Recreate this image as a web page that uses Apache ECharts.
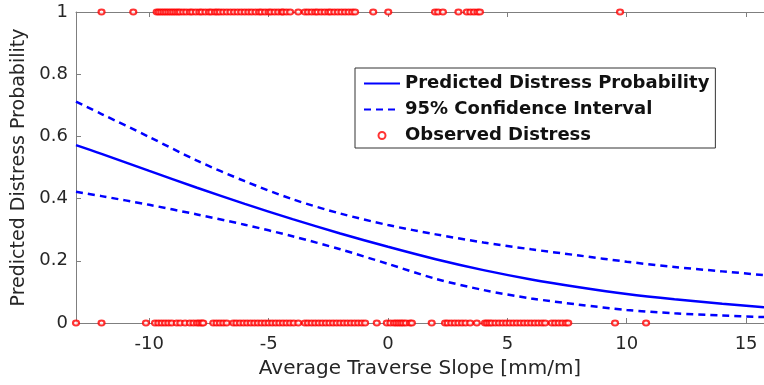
<!DOCTYPE html>
<html>
<head>
<meta charset="utf-8">
<script src="https://cdn.jsdelivr.net/npm/echarts@6/dist/echarts.min.js"></script>
<style>
    html, body { margin: 0; padding: 0; background: #fff; }
    #chart { width: 764px; height: 385px; }
</style>
</head>
<body>
<div id="chart"></div>
<script>
// slope values along the fitted curves
const curveX = [-13.07, -12, -10, -8, -6, -4, -2, 0, 2, 4, 6, 8, 10, 12, 14, 15.75];
const predicted = [0.572, 0.544, 0.489, 0.435, 0.383, 0.334, 0.288, 0.245, 0.205, 0.17, 0.14, 0.115, 0.093, 0.076, 0.062, 0.051];
const upperCI = [0.712, 0.672, 0.598, 0.522, 0.456, 0.398, 0.352, 0.315, 0.285, 0.259, 0.237, 0.217, 0.197, 0.18, 0.166, 0.154];
const lowerCI = [0.422, 0.408, 0.38, 0.349, 0.316, 0.279, 0.237, 0.19, 0.142, 0.106, 0.079, 0.059, 0.042, 0.031, 0.024, 0.019];

// observed sections: distress = 1
const distressX = [
    -12.0, -10.67,
    -9.69, -9.6, -9.5, -9.4, -9.3, -9.2, -9.1, -9.0, -8.9, -8.8, -8.71,
    -8.58, -8.45, -8.3, -8.2, -8.05, -7.9, -7.8, -7.65, -7.5, -7.4, -7.25, -7.15, -7.04,
    -6.9, -6.75, -6.6, -6.45, -6.3, -6.15, -6.0, -5.85,
    -5.71, -5.55, -5.4, -5.3, -5.15, -5.0, -4.9, -4.75, -4.6, -4.45,
    -4.39, -4.25, -4.1, -3.76,
    -3.48, -3.35, -3.2, -3.05, -2.95, -2.8, -2.65, -2.5, -2.4, -2.25, -2.1, -1.95, -1.8, -1.65, -1.5, -1.38,
    -0.62, 0.01,
    1.97, 2.1, 2.3, 2.95, 3.3, 3.45, 3.6, 3.75, 3.85,
    9.72
];
// observed sections: distress = 0
const noDistressX = [
    -13.07, -12.0, -10.14,
    -9.76, -9.62, -9.48, -9.34, -9.2, -9.06,
    -8.85, -8.7, -8.5,
    -8.3, -8.15, -8.0, -7.9, -7.8, -7.74,
    -7.32, -7.18, -7.04, -6.9, -6.76,
    -6.48, -6.35, -6.2, -6.05, -5.9, -5.75, -5.6, -5.45, -5.3, -5.15, -5.0, -4.85, -4.7, -4.55, -4.4, -4.25, -4.1, -3.95, -3.76,
    -3.48, -3.35, -3.2, -3.05, -2.9, -2.75, -2.6, -2.45, -2.3, -2.15, -2.0, -1.85, -1.7, -1.55, -1.4, -1.25, -1.1, -0.96,
    -0.47, -0.05, 0.1, 0.25, 0.35, 0.45, 0.55, 0.64, 0.75, 0.92, 1.0,
    1.83,
    2.39, 2.5, 2.65, 2.8, 2.95, 3.1, 3.25, 3.44, 3.72,
    4.06, 4.15, 4.25, 4.35, 4.5, 4.65, 4.8, 4.95, 5.1, 5.25, 5.4, 5.55, 5.7, 5.85, 6.0, 6.15, 6.3, 6.45, 6.58,
    6.86, 7.0, 7.15, 7.3, 7.45, 7.55,
    9.51, 10.81
];

const xMin = -13.07;
const xMax = 15.75;

const chart = echarts.init(document.getElementById('chart'));

const font = 'DejaVu Sans';
const axisGray = '#7f7f7f';
const textDark = '#262626';

const observed = distressX.map(x => [x, 1]).concat(noDistressX.map(x => [x, 0]));

const lineSeries = (name, values, dashed) => ({
    name: name,
    type: 'line',
    data: curveX.map((x, i) => [x, values[i]]),
    showSymbol: false,
    symbol: 'none',
    smooth: 0.3,
    lineStyle: {
        color: '#0000ff',
        width: 2.5,
        type: dashed ? [7, 5] : 'solid'
    },
    itemStyle: { color: '#0000ff' },
    z: 2
});

const option = {
    backgroundColor: '#fff',
    animation: false,
    textStyle: { fontFamily: font },
    grid: { left: 76, right: 0, top: 12, bottom: 62 },
    legend: {
        left: 355,
        top: 68,
        orient: 'vertical',
        data: [
            { name: 'Predicted Distress Probability', itemStyle: { opacity: 0 } },
            { name: '95% Confidence Interval', itemStyle: { opacity: 0 } },
            { name: 'Observed Distress' }
        ],
        itemWidth: 36,
        itemHeight: 7,
        itemGap: 7,
        padding: [6, 6, 3, 8],
        backgroundColor: '#fff',
        borderColor: '#333',
        borderWidth: 1,
        borderRadius: 0,
        textStyle: {
            fontFamily: font,
            fontWeight: 'bold',
            fontSize: 18,
            lineHeight: 19,
            color: '#111'
        }
    },
    xAxis: [
        {
            type: 'value',
            min: xMin,
            max: xMax,
            name: 'Average Traverse Slope [mm/m]',
            nameLocation: 'middle',
            nameGap: 36,
            nameTextStyle: { fontFamily: font, fontSize: 20, color: textDark },
            axisLine: { onZero: false, lineStyle: { color: axisGray, width: 1 } },
            axisTick: { inside: true, length: 5, lineStyle: { color: axisGray } },
            axisLabel: {
                fontFamily: font, fontSize: 18, color: textDark, margin: 12,
                showMinLabel: false, showMaxLabel: false
            },
            splitLine: { show: false }
        },
        {
            type: 'value',
            position: 'top',
            min: xMin,
            max: xMax,
            axisLine: { show: true, onZero: false, lineStyle: { color: axisGray, width: 1 } },
            axisTick: { inside: true, length: 5, lineStyle: { color: axisGray } },
            axisLabel: { show: false },
            splitLine: { show: false }
        }
    ],
    yAxis: {
        type: 'value',
        min: 0,
        max: 1,
        interval: 0.2,
        name: 'Predicted Distress Probability',
        nameLocation: 'middle',
        nameGap: 39,
        nameTextStyle: { fontFamily: font, fontSize: 19, color: textDark },
        axisLine: { show: true, onZero: false, lineStyle: { color: axisGray, width: 1 } },
        axisTick: { show: true, inside: true, length: 5, lineStyle: { color: axisGray } },
        axisLabel: { fontFamily: font, fontSize: 18, color: textDark, margin: 8 },
        splitLine: { show: false }
    },
    series: [
        lineSeries('Predicted Distress Probability', predicted, false),
        lineSeries('95% Confidence Interval', upperCI, true),
        lineSeries('95% Confidence Interval', lowerCI, true),
        {
            name: 'Observed Distress',
            type: 'scatter',
            data: observed,
            symbol: 'emptyCircle',
            symbolSize: [6, 5],
            clip: false,
            itemStyle: { color: '#ff0000', borderColor: '#ff0000', borderWidth: 1 },
            z: 3
        }
    ]
};

chart.setOption(option);
</script>
</body>
</html>
